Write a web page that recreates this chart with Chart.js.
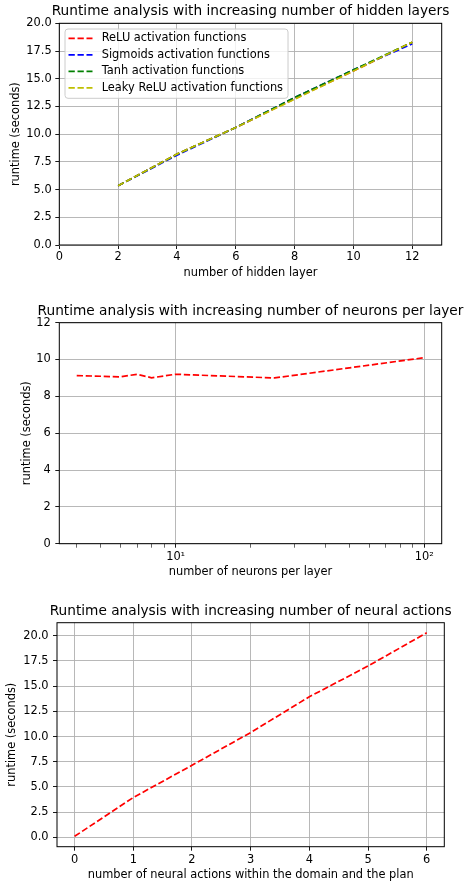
<!DOCTYPE html>
<html>
<head>
<meta charset="utf-8">
<script src="https://cdn.jsdelivr.net/npm/chart.js@4.4.1/dist/chart.umd.min.js"></script>
<style>
  html, body { margin: 0; padding: 0; background: #fff; overflow: hidden; }
  .plot { position: absolute; left: 0; }
</style>
</head>
<body>
<canvas id="layers" class="plot" width="464" height="295" style="top:0px"></canvas>
<canvas id="neurons" class="plot" width="464" height="300" style="top:295px"></canvas>
<canvas id="actions" class="plot" width="464" height="290" style="top:595px"></canvas>
<script>
// values
const hiddenLayers   = [2, 4, 6, 8, 10, 12];
const reluRuntime    = [5.35, 8.2, 10.6, 13.2, 15.7, 18.3];
const sigmoidRuntime = [5.35, 8.1, 10.6, 13.3, 15.8, 18.15];
const tanhRuntime    = [5.35, 8.2, 10.6, 13.3, 15.8, 18.3];
const leakyRuntime   = [5.35, 8.2, 10.6, 13.15, 15.7, 18.3];

const neuronsPerLayer = [4, 6, 7, 8, 10, 25, 100];
const neuronsRuntime  = [9.13, 9.06, 9.2, 9.01, 9.2, 9.0, 10.1];

const neuralActions  = [0, 1, 2, 3, 4, 5, 6];
const actionsRuntime = [0.1, 3.95, 7.15, 10.4, 13.95, 17.0, 20.3];

// tick labels
const layerTicksX  = [0, 2, 4, 6, 8, 10, 12];
const layerTicksY  = [0, 2.5, 5, 7.5, 10, 12.5, 15, 17.5, 20];
const neuronTicksX = [4, 5, 6, 7, 8, 9, 10, 20, 30, 40, 50, 60, 70, 80, 90, 100];
const neuronLabels = { 10: '10\u00b9', 100: '10\u00b2' };
const neuronTicksY = [0, 2, 4, 6, 8, 10, 12];
const actionTicksX = [0, 1, 2, 3, 4, 5, 6];
const actionTicksY = [0, 2.5, 5, 7.5, 10, 12.5, 15, 17.5, 20];

const labelSize = 11.4;
const titleSize = 13.7;

Chart.defaults.font.family = 'DejaVu Sans';
Chart.defaults.font.size = labelSize;
Chart.defaults.color = '#000';

const gridColor = '#b0b0b0';
const dash = [6.3, 2.7];

const points = (xs, ys) => xs.map((x, i) => ({ x: x, y: ys[i] }));

const lineSet = (label, color, xs, ys, order) => ({
  label: label,
  data: points(xs, ys),
  borderColor: color,
  backgroundColor: color,
  borderWidth: 1.7,
  borderDash: dash,
  pointRadius: 0,
  tension: 0,
  fill: false,
  order: order
});

// spines round the axes
const frame = {
  id: 'frame',
  afterDatasetsDraw(chart) {
    const a = chart.chartArea, ctx = chart.ctx;
    ctx.save();
    ctx.strokeStyle = '#000';
    ctx.lineWidth = 1;
    ctx.strokeRect(a.left, a.top, a.right - a.left, a.bottom - a.top);
    ctx.restore();
  }
};

// title centred over the axes
const axTitle = {
  id: 'axTitle',
  afterDraw(chart, args, opts) {
    const a = chart.chartArea, ctx = chart.ctx;
    ctx.save();
    ctx.font = titleSize + 'px "DejaVu Sans"';
    ctx.fillStyle = '#000';
    ctx.textAlign = 'center';
    ctx.textBaseline = 'middle';
    ctx.fillText(opts.text, (a.left + a.right) / 2, opts.y);
    ctx.restore();
  }
};

// legend inside the axes, upper left
const insideLegend = {
  id: 'insideLegend',
  afterDraw(chart, args, opts) {
    if (!opts.show) return;
    const a = chart.chartArea, ctx = chart.ctx;
    const sets = chart.data.datasets;
    ctx.save();
    ctx.font = labelSize + 'px "DejaVu Sans"';
    let maxW = 0;
    sets.forEach(d => { maxW = Math.max(maxW, ctx.measureText(d.label).width); });
    const bx = a.left + 5.7, by = a.top + 5.7;
    const lineX = bx + 3.5, textX = bx + 36.7;
    const rowH = 16.5, firstRow = by + 9.3;
    const w = textX - bx + maxW + 5;
    const h = 9.3 + rowH * (sets.length - 1) + 10.5;
    ctx.beginPath();
    ctx.roundRect(bx, by, w, h, 3);
    ctx.fillStyle = 'rgba(255,255,255,0.8)';
    ctx.fill();
    ctx.strokeStyle = '#cccccc';
    ctx.lineWidth = 1;
    ctx.stroke();
    sets.forEach((d, i) => {
      const y = firstRow + i * rowH;
      ctx.beginPath();
      ctx.setLineDash(dash);
      ctx.strokeStyle = d.borderColor;
      ctx.lineWidth = 1.7;
      ctx.moveTo(lineX, y);
      ctx.lineTo(lineX + 24, y);
      ctx.stroke();
      ctx.setLineDash([]);
      ctx.fillStyle = '#000';
      ctx.textAlign = 'left';
      ctx.textBaseline = 'middle';
      ctx.fillText(d.label, textX, y);
    });
    ctx.restore();
  }
};

function axis(kind, spec) {
  const isX = kind === 'x';
  return {
    type: spec.type || 'linear',
    min: spec.min,
    max: spec.max,
    afterBuildTicks: s => { s.ticks = spec.ticks.map(v => ({ value: v })); },
    afterFit: s => { if (isX) s.height = spec.size; else s.width = spec.size; },
    ticks: {
      autoSkip: false,
      maxRotation: 0,
      padding: spec.pad,
      font: { size: labelSize },
      callback: spec.fmt
    },
    grid: {
      color: spec.gridColor || gridColor,
      lineWidth: 0.9,
      tickLength: 4,
      tickColor: '#000',
      tickWidth: spec.tickWidth || 0.9
    },
    border: { display: false },
    title: {
      display: true,
      text: spec.title,
      font: { size: labelSize },
      padding: isX ? { top: 0, bottom: spec.titlePad } : { top: spec.titlePad, bottom: 0 }
    }
  };
}

function makeChart(id, datasets, layout, xSpec, ySpec, title, showLegend) {
  return new Chart(document.getElementById(id), {
    type: 'line',
    data: { datasets: datasets },
    options: {
      responsive: false,
      animation: false,
      events: [],
      layout: { padding: layout },
      scales: { x: axis('x', xSpec), y: axis('y', ySpec) },
      plugins: {
        legend: { display: false },
        tooltip: { enabled: false },
        axTitle: title,
        insideLegend: { show: showLegend }
      }
    },
    plugins: [frame, axTitle, insideLegend]
  });
}

const oneDecimal = v => v.toFixed(1);

makeChart('layers', [
    lineSet('ReLU activation functions', '#ff0000', hiddenLayers, reluRuntime, 4),
    lineSet('Sigmoids activation functions', '#0000ff', hiddenLayers, sigmoidRuntime, 3),
    lineSet('Tanh activation functions', '#008000', hiddenLayers, tanhRuntime, 2),
    lineSet('Leaky ReLU activation functions', '#bfbf00', hiddenLayers, leakyRuntime, 1)
  ],
  { top: 23.3, right: 22.3, left: 0, bottom: 0 },
  { min: 0, max: 13, ticks: layerTicksX, size: 50, pad: 1.5, title: 'number of hidden layer', titlePad: 15.2 },
  { min: 0, max: 20, ticks: layerTicksY, size: 59.3, pad: 3.6, title: 'runtime (seconds)', titlePad: 9.4, fmt: oneDecimal },
  { text: 'Runtime analysis with increasing number of hidden layers', y: 11.7 },
  true);

makeChart('neurons', [
    lineSet('runtime', '#ff0000', neuronsPerLayer, neuronsRuntime, 1)
  ],
  { top: 27.7, right: 22.3, left: 0, bottom: 0 },
  { type: 'logarithmic', min: 3.404, max: 117.5, ticks: neuronTicksX, size: 51.3, pad: 2.2,
    title: 'number of neurons per layer', titlePad: 15.9,
    fmt: v => neuronLabels[v] || '',
    gridColor: c => (neuronLabels[c.tick && c.tick.value] ? gridColor : 'rgba(0,0,0,0)'),
    tickWidth: c => (neuronLabels[c.tick && c.tick.value] ? 0.9 : 0.6) },
  { min: 0, max: 12, ticks: neuronTicksY, size: 59.3, pad: 4.5, title: 'runtime (seconds)', titlePad: 19.9 },
  { text: 'Runtime analysis with increasing number of neurons per layer', y: 16 },
  false);

makeChart('actions', [
    lineSet('runtime', '#ff0000', neuralActions, actionsRuntime, 1)
  ],
  { top: 27.7, right: 19.7, left: 0, bottom: 0 },
  { min: -0.3, max: 6.3, ticks: actionTicksX, size: 38.3, pad: 2.5, title: 'number of neural actions within the domain and the plan', titlePad: 2.9 },
  { min: -0.93, max: 21.3, ticks: actionTicksY, size: 57, pad: 4.5, title: 'runtime (seconds)', titlePad: 5.7, fmt: oneDecimal },
  { text: 'Runtime analysis with increasing number of neural actions', y: 16 },
  false);
</script>
</body>
</html>
